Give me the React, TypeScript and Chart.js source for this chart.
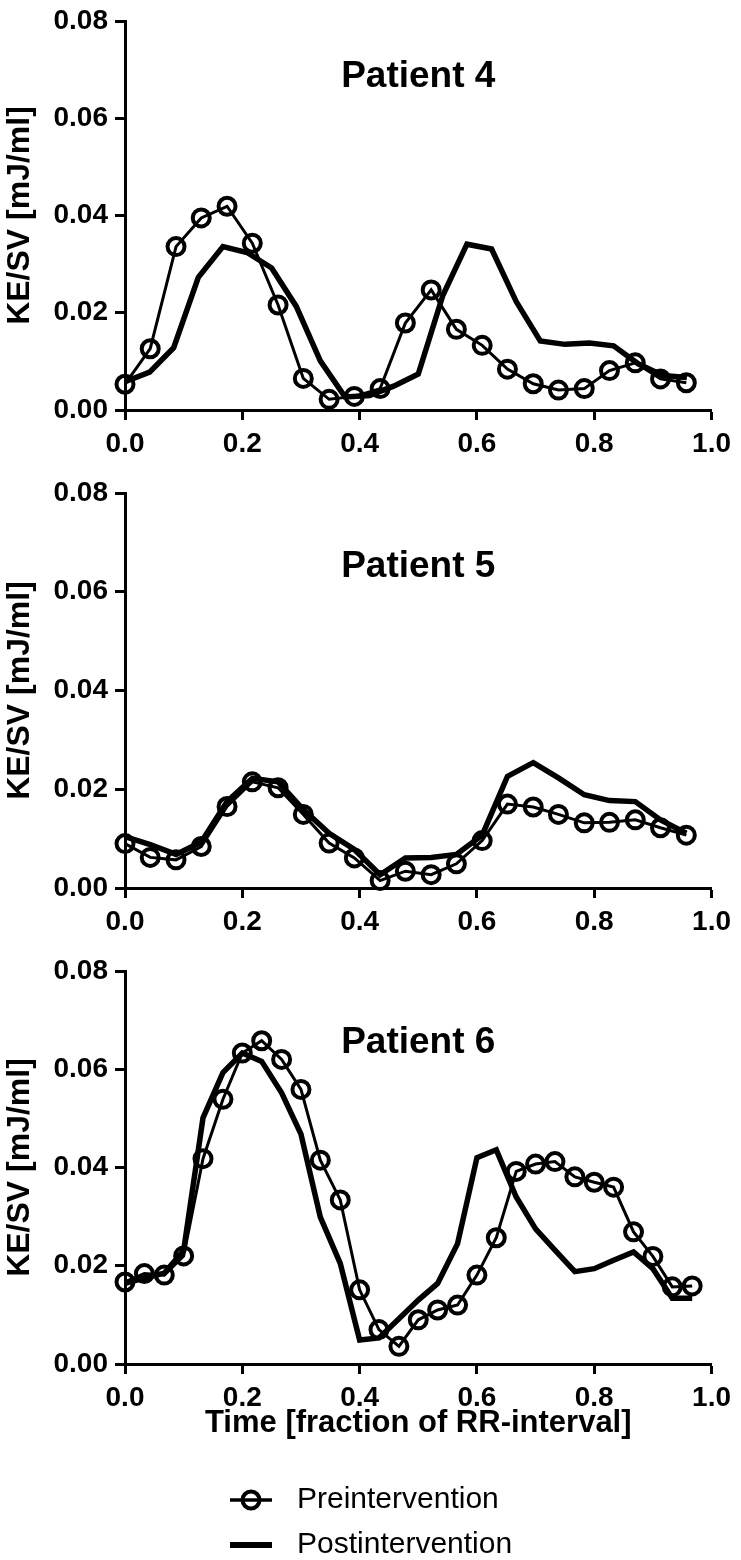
import React, { useEffect, useRef } from 'react';
import { Chart, registerables } from 'chart.js';

Chart.register(...registerables);

const FONT = "'Liberation Sans', Arial, Helvetica, sans-serif";

// ---------- Data ----------
// Patient 4
const tPreP4 = [0, 0.043, 0.087, 0.13, 0.174, 0.217, 0.261, 0.304, 0.348, 0.391, 0.435, 0.478, 0.522, 0.565, 0.609, 0.652, 0.696, 0.739, 0.783, 0.826, 0.87, 0.913, 0.957];
const p4Pre = [0.0053, 0.0126, 0.0336, 0.0395, 0.0419, 0.0343, 0.0216, 0.0065, 0.0022, 0.0028, 0.0044, 0.0179, 0.0247, 0.0166, 0.0133, 0.0084, 0.0054, 0.0041, 0.0044, 0.0081, 0.0097, 0.0064, 0.0056];
const tPostP4 = [0, 0.042, 0.083, 0.125, 0.167, 0.208, 0.25, 0.292, 0.333, 0.375, 0.417, 0.458, 0.5, 0.542, 0.583, 0.625, 0.667, 0.708, 0.75, 0.792, 0.833, 0.875, 0.917, 0.958];
const p4Post = [0.0058, 0.0078, 0.0128, 0.0273, 0.0336, 0.0324, 0.0292, 0.0213, 0.0101, 0.0027, 0.003, 0.0049, 0.0074, 0.0236, 0.0341, 0.0331, 0.0223, 0.0142, 0.0135, 0.0138, 0.0132, 0.0095, 0.0071, 0.0067];

// Patient 5
const tP5 = [0, 0.043, 0.087, 0.13, 0.174, 0.217, 0.261, 0.304, 0.348, 0.391, 0.435, 0.478, 0.522, 0.565, 0.609, 0.652, 0.696, 0.739, 0.783, 0.826, 0.87, 0.913, 0.957];
const p5Pre = [0.009, 0.0062, 0.0057, 0.0084, 0.0165, 0.0215, 0.0203, 0.0149, 0.0091, 0.0061, 0.0015, 0.0034, 0.0027, 0.0049, 0.0096, 0.017, 0.0164, 0.0149, 0.0132, 0.0133, 0.0138, 0.0122, 0.0107];
const p5Post = [0.0104, 0.0088, 0.0068, 0.0093, 0.0175, 0.0222, 0.0215, 0.0159, 0.0111, 0.0078, 0.0027, 0.0061, 0.0062, 0.0068, 0.0107, 0.0226, 0.0254, 0.0223, 0.0189, 0.0177, 0.0175, 0.0138, 0.0111];

// Patient 6
const tP6 = [0, 0.033, 0.067, 0.1, 0.133, 0.167, 0.2, 0.233, 0.267, 0.3, 0.333, 0.367, 0.4, 0.433, 0.467, 0.5, 0.533, 0.567, 0.6, 0.633, 0.667, 0.7, 0.733, 0.767, 0.8, 0.833, 0.867, 0.9, 0.933, 0.967];
const p6Pre = [0.0167, 0.0184, 0.0181, 0.022, 0.0418, 0.0539, 0.0633, 0.0658, 0.062, 0.0559, 0.0415, 0.0334, 0.0151, 0.007, 0.0036, 0.009, 0.011, 0.012, 0.0181, 0.0257, 0.0392, 0.0407, 0.0412, 0.0381, 0.037, 0.036, 0.0269, 0.0219, 0.0157, 0.0159];
const p6Post = [0.0164, 0.0175, 0.0185, 0.0231, 0.0501, 0.0593, 0.0633, 0.0616, 0.0552, 0.0468, 0.0299, 0.0205, 0.0049, 0.0053, 0.0092, 0.013, 0.0164, 0.0245, 0.042, 0.0436, 0.034, 0.0275, 0.0232, 0.0188, 0.0194, 0.0211, 0.0228, 0.0194, 0.0134, 0.0134];

// Ticks and labels
const xTickValues = [0, 0.2, 0.4, 0.6, 0.8, 1.0];
const xTickLabels = ['0.0', '0.2', '0.4', '0.6', '0.8', '1.0'];
const yTickValues = [0, 0.02, 0.04, 0.06, 0.08];
const yTickLabels = ['0.00', '0.02', '0.04', '0.06', '0.08'];

const seriesNames = ['Preintervention', 'Postintervention'];
const yAxisTitle = 'KE/SV [mJ/ml]';
const xAxisTitle = 'Time [fraction of RR-interval]';

// ---------- Plugins ----------
const panelTitlePlugin = {
  id: 'panelTitle',
  afterDraw(chart: any, _args: any, opts: any) {
    if (!opts || !opts.text) return;
    const { ctx, chartArea } = chart;
    const y = chart.scales.y.getPixelForValue(opts.value);
    const x = (chartArea.left + chartArea.right) / 2;
    ctx.save();
    ctx.font = `bold ${opts.size}px ${FONT}`;
    ctx.fillStyle = '#000';
    ctx.textAlign = 'center';
    ctx.textBaseline = 'middle';
    ctx.fillText(opts.text, x, y);
    ctx.restore();
  },
};

const stackLegendPlugin = {
  id: 'stackLegend',
  afterDraw(chart: any, _args: any, opts: any) {
    if (!opts || !opts.display) return;
    const { ctx, chartArea } = chart;
    chart.data.datasets.forEach((ds: any, i: number) => {
      const y = chartArea.bottom + opts.top + i * opts.rowGap;
      const x0 = chartArea.left + opts.lineStart;
      const x1 = x0 + opts.lineLen;
      ctx.save();
      ctx.strokeStyle = ds.borderColor;
      ctx.lineWidth = ds.borderWidth + (ds.pointRadius > 0 ? 0.5 : 0.5);
      ctx.lineCap = 'butt';
      ctx.beginPath();
      ctx.moveTo(x0, y);
      ctx.lineTo(x1, y);
      ctx.stroke();
      if (ds.pointRadius > 0) {
        ctx.lineWidth = ds.pointBorderWidth;
        ctx.beginPath();
        ctx.arc((x0 + x1) / 2, y, ds.pointRadius, 0, Math.PI * 2);
        ctx.stroke();
      }
      ctx.fillStyle = '#000';
      ctx.font = `${opts.size}px ${FONT}`;
      ctx.textAlign = 'left';
      ctx.textBaseline = 'middle';
      ctx.fillText(ds.label, x1 + opts.textGap, y);
      ctx.restore();
    });
  },
};

// ---------- Panels ----------
type PanelDef = {
  title: string;
  titleValue: number;
  tPre: number[];
  pre: number[];
  tPost: number[];
  post: number[];
  top: number;
  height: number;
  padTop: number;
  xHeight: number;
  padBottom: number;
  last: boolean;
};

const panels: PanelDef[] = [
  { title: 'Patient 4', titleValue: 0.0685, tPre: tPreP4, pre: p4Pre, tPost: tPostP4, post: p4Post, top: 0, height: 470, padTop: 15, xHeight: 60, padBottom: 0, last: false },
  { title: 'Patient 5', titleValue: 0.0651, tPre: tP5, pre: p5Pre, tPost: tP5, post: p5Post, top: 470, height: 480, padTop: 23, xHeight: 62, padBottom: 0, last: false },
  { title: 'Patient 6', titleValue: 0.0654, tPre: tP6, pre: p6Pre, tPost: tP6, post: p6Post, top: 950, height: 610, padTop: 19, xHeight: 75, padBottom: 121, last: true },
];

function toPoints(xs: number[], ys: number[]) {
  return ys.map((y, i) => ({ x: xs[i], y }));
}

function PanelChart({ p }: { p: PanelDef }) {
  const ref = useRef<HTMLCanvasElement | null>(null);

  useEffect(() => {
    if (!ref.current) return;
    const axisGrid = {
      display: true,
      drawOnChartArea: false,
      drawTicks: true,
      tickLength: 10,
      tickWidth: 3,
      tickColor: '#000',
    };
    const axisBorder = { display: true, width: 3, color: '#000' };
    const tickFont = { family: FONT, size: 28, weight: 'bold' as const, lineHeight: 1 };

    const chart = new Chart(ref.current, {
      type: 'line',
      data: {
        datasets: [
          {
            label: seriesNames[0],
            data: toPoints(p.tPre, p.pre),
            borderColor: '#000',
            borderWidth: 3,
            pointRadius: 8.5,
            pointBorderWidth: 4,
            pointBackgroundColor: 'rgba(0,0,0,0)',
            pointBorderColor: '#000',
            pointStyle: 'circle',
            tension: 0,
            fill: false,
            clip: false as any,
          },
          {
            label: seriesNames[1],
            data: toPoints(p.tPost, p.post),
            borderColor: '#000',
            borderWidth: 5.5,
            pointRadius: 0,
            tension: 0,
            fill: false,
            borderJoinStyle: 'miter',
            clip: false as any,
          },
        ],
      },
      options: {
        animation: false,
        responsive: false,
        devicePixelRatio: 1,
        events: [],
        layout: { padding: { left: 0, right: 23, top: p.padTop, bottom: p.padBottom } },
        plugins: {
          legend: { display: false },
          tooltip: { enabled: false },
          title: { display: false },
          panelTitle: { text: p.title, value: p.titleValue, size: 37 },
          stackLegend: { display: p.last, top: 136, rowGap: 45, lineStart: 105, lineLen: 42, textGap: 25, size: 30 },
        } as any,
        scales: {
          x: {
            type: 'linear',
            min: 0,
            max: 1,
            afterBuildTicks: (axis: any) => {
              axis.ticks = xTickValues.map((v) => ({ value: v }));
            },
            afterFit: (axis: any) => {
              axis.height = p.xHeight;
            },
            ticks: {
              color: '#000',
              font: tickFont,
              padding: 10,
              maxRotation: 0,
              autoSkip: false,
              callback: (_v: any, i: number) => xTickLabels[i],
            },
            grid: axisGrid,
            border: axisBorder,
            title: p.last
              ? {
                  display: true,
                  text: xAxisTitle,
                  color: '#000',
                  font: { family: FONT, size: 31, weight: 'bold', lineHeight: 1 },
                  padding: { top: 0, bottom: 0 },
                }
              : { display: false },
          },
          y: {
            type: 'linear',
            min: 0,
            max: 0.08,
            afterBuildTicks: (axis: any) => {
              axis.ticks = yTickValues.map((v) => ({ value: v }));
            },
            afterFit: (axis: any) => {
              axis.width = 125;
            },
            ticks: {
              color: '#000',
              font: tickFont,
              padding: 7,
              autoSkip: false,
              callback: (_v: any, i: number) => yTickLabels[i],
            },
            grid: axisGrid,
            border: axisBorder,
            title: {
              display: true,
              text: yAxisTitle,
              color: '#000',
              font: { family: FONT, size: 32, weight: 'bold', lineHeight: 1.15 },
              padding: { top: 2, bottom: 0 },
            },
          },
        },
      } as any,
      plugins: [panelTitlePlugin, stackLegendPlugin],
    });
    return () => chart.destroy();
  }, [p]);

  return (
    <div style={{ position: 'absolute', left: 0, top: p.top, width: 741, height: p.height }}>
      <canvas ref={ref} width={741} height={p.height} style={{ display: 'block', width: 741, height: p.height }} />
    </div>
  );
}

export default function App() {
  return (
    <div style={{ position: 'absolute', left: 0, top: 0, width: 741, height: 1560, background: '#fff', overflow: 'hidden' }}>
      {panels.map((p) => (
        <PanelChart key={p.title} p={p} />
      ))}
    </div>
  );
}
